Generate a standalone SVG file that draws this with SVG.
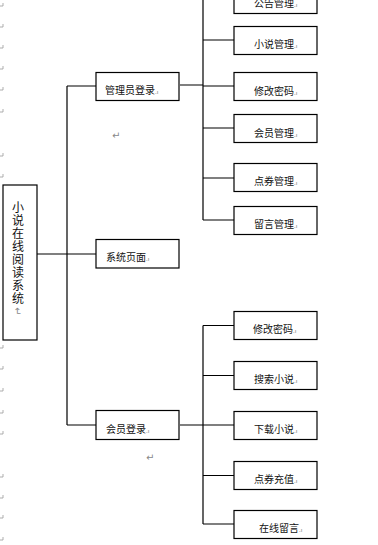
<svg xmlns="http://www.w3.org/2000/svg" width="378" height="545" viewBox="0 0 378 545">
<style>
.box{fill:#fff;stroke:#000;stroke-width:1.2}
.ln{stroke:#000;stroke-width:1.2;fill:none}
.t{font-family:"Noto Sans CJK SC","Liberation Sans",sans-serif;font-size:10px;fill:#111}
.big{font-family:"Noto Sans CJK SC","Liberation Sans",sans-serif;font-size:12px;fill:#111;writing-mode:vertical-rl;text-orientation:upright;letter-spacing:1px}
.pm{font-size:6px;fill:#777}
.rm{font-family:"DejaVu Sans",sans-serif;font-size:10px;fill:#888}
.mk{stroke:#999;stroke-width:0.8;fill:none}
</style>
<rect width="378" height="545" fill="#fff"/>
<g id="margin-marks">
<path class="mk" d="M3,3v3h-3M3,24v3h-3M3,45v3h-3M3,66v3h-3M3,87v3h-3M3,109v3h-3M3,153v3h-3M3,174v3h-3M3,345v3h-3M3,366v3h-3M3,388v3h-3M3,410v3h-3M3,431v3h-3M3,474v3h-3M3,495v3h-3M3,515v3h-3M3,537v3h-3"/>
</g>
<g id="connectors">
<path class="ln" d="M37,254H67M67,86V425M67,86H96M67,254H96M67,425H96"/>
<path class="ln" d="M180,85H203M203,0V220M203,40H234M203,86H234M203,128H234M203,178H234M203,220H234"/>
<path class="ln" d="M180,425H234M203,325.5V524M203,325.5H234M203,375.5H234M203,475.5H234M203,524H234"/>
</g>
<g id="root">
<rect class="box" x="3" y="185" width="34" height="155"/>
<text class="big" x="18" y="201">小说在线阅读系统</text>
<text class="rm" transform="translate(14,307) rotate(90)" font-size="7">↵</text>
</g>
<g id="admin">
<rect class="box" x="96" y="72.5" width="83" height="28"/>
<text class="t" x="105" y="94">管理员登录<tspan class="pm">.ı</tspan></text>
</g>
<g id="syspage">
<rect class="box" x="96" y="239.5" width="83" height="28.5"/>
<text class="t" x="106" y="261">系统页面<tspan class="pm">.ı</tspan></text>
</g>
<g id="member">
<rect class="box" x="96" y="410.5" width="83" height="29"/>
<text class="t" x="106" y="432.5">会员登录<tspan class="pm">.ı</tspan></text>
</g>
<g id="a-notice">
<rect class="box" x="234" y="-14" width="83" height="27.5"/>
<text class="t" x="254" y="6.5">公告管理<tspan class="pm">.ı</tspan></text>
</g>
<g id="a-novel">
<rect class="box" x="234" y="26.5" width="83" height="28"/>
<text class="t" x="254" y="48">小说管理<tspan class="pm">.ı</tspan></text>
</g>
<g id="a-pwd">
<rect class="box" x="234" y="72.5" width="83" height="28"/>
<text class="t" x="254" y="94.5">修改密码<tspan class="pm">.ı</tspan></text>
</g>
<g id="a-member">
<rect class="box" x="234" y="114.5" width="83" height="28"/>
<text class="t" x="254" y="137">会员管理<tspan class="pm">.ı</tspan></text>
</g>
<g id="a-coupon">
<rect class="box" x="234" y="163.5" width="83" height="28"/>
<text class="t" x="254" y="184.5">点券管理<tspan class="pm">.ı</tspan></text>
</g>
<g id="a-msg">
<rect class="box" x="234" y="206.5" width="83" height="28"/>
<text class="t" x="254" y="228">留言管理<tspan class="pm">.ı</tspan></text>
</g>
<g id="m-pwd">
<rect class="box" x="234" y="311.5" width="83" height="28"/>
<text class="t" x="253" y="333">修改密码<tspan class="pm">.ı</tspan></text>
</g>
<g id="m-search">
<rect class="box" x="234" y="361.5" width="83" height="28"/>
<text class="t" x="254" y="383">搜索小说<tspan class="pm">.ı</tspan></text>
</g>
<g id="m-download">
<rect class="box" x="234" y="411.5" width="83" height="28"/>
<text class="t" x="254" y="433">下载小说<tspan class="pm">.ı</tspan></text>
</g>
<g id="m-recharge">
<rect class="box" x="234" y="461.5" width="83" height="28"/>
<text class="t" x="254" y="483">点券充值<tspan class="pm">.ı</tspan></text>
</g>
<g id="m-msg">
<rect class="box" x="234" y="510.5" width="83" height="28"/>
<text class="t" x="259" y="532">在线留言<tspan class="pm">.ı</tspan></text>
</g>
<text class="rm" x="112" y="139">↵</text>
<text class="rm" x="146" y="461">↵</text>
</svg>
